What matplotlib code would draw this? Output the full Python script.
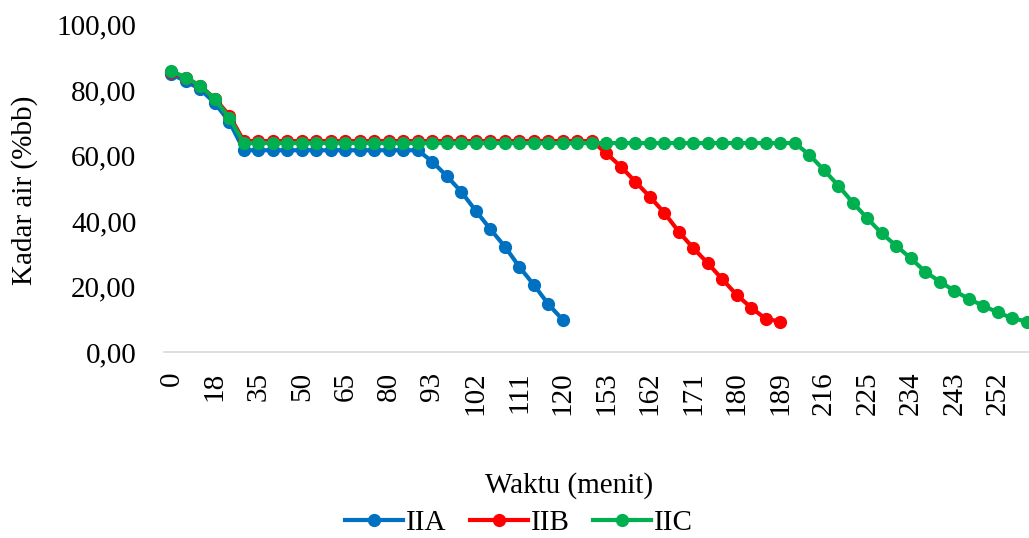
import numpy as np
import matplotlib
matplotlib.use("Agg")
import matplotlib.pyplot as plt

plt.rcParams["font.family"] = ["Liberation Serif", "DejaVu Serif"]
plt.rcParams["font.size"] = 21

# categories (waktu, menit)
waktu = [0, 6, 12, 18, 24, 30, 35, 40, 45, 50, 55, 60, 65, 70, 75, 80, 85, 89,
         93, 96, 99, 102, 105, 108, 111, 114, 117, 120, 131, 142, 153, 156, 159,
         162, 165, 168, 171, 174, 177, 180, 183, 186, 189, 198, 207, 216, 219,
         222, 225, 228, 231, 234, 237, 240, 243, 246, 249, 252, 255, 258]

# kadar air (%bb)
iia = [84.8, 82.7, 80.2, 76.0, 70.3] + [61.6] * 13 + \
      [58.1, 53.7, 48.9, 43.1, 37.5, 32.2, 26.0, 20.5, 14.6, 9.8]
iib = [85.5, 83.6, 81.1, 77.4, 72.2] + [64.4] * 25 + \
      [60.7, 56.6, 52.0, 47.4, 42.5, 36.7, 31.7, 27.1, 22.2, 17.4, 13.5, 10.1, 9.3]
iic = [85.8, 83.8, 81.3, 77.2, 71.5] + [63.8] * 39 + \
      [60.2, 55.6, 50.8, 45.6, 40.8, 36.2, 32.4, 28.6, 24.5, 21.5, 18.7, 16.2,
       14.1, 12.1, 10.3, 9.3]

series = [("IIA", iia, "#0070C0"), ("IIB", iib, "#FF0000"), ("IIC", iic, "#00B050")]

fig = plt.figure(figsize=(10.29, 5.38), dpi=100)
ax = fig.add_axes([0.1595, 0.3457, 0.8405, 0.6088])

for name, vals, col in series:
    ax.plot(np.arange(len(vals)), vals, color=col, lw=3, marker="o",
            markersize=8.5, label=name, clip_on=False)

ax.set_xlim(-0.5, 59.15)
ax.set_ylim(0, 100)
ax.set_yticks(np.arange(0, 101, 20))
ax.set_yticklabels(["%d,00" % v for v in range(0, 101, 20)])
idx = list(range(0, len(waktu), 3))
ax.set_xticks(idx)
ax.set_xticklabels([str(waktu[i]) for i in idx], rotation=90, va="top", ha="center")
ax.tick_params(axis="both", length=0)
ax.tick_params(axis="x", pad=14)
ax.tick_params(axis="y", pad=20)

for s in ["top", "right", "left"]:
    ax.spines[s].set_visible(False)
ax.spines["bottom"].set_color("#D9D9D9")
ax.spines["bottom"].set_linewidth(1.2)

fig.text(25 / 1029, 1 - 190 / 538, "Kadar air (%bb)", rotation=90,
         ha="center", va="center")
fig.text(569 / 1029, 1 - 486 / 538, "Waktu (menit)", ha="center", va="center")
fig.legend(loc="center", bbox_to_anchor=(519 / 1029, 1 - 523 / 538), ncol=3,
           frameon=False, handlelength=2.0, handletextpad=0.1, columnspacing=0.8,
           borderaxespad=0)

fig.savefig("out.png", dpi=100)
